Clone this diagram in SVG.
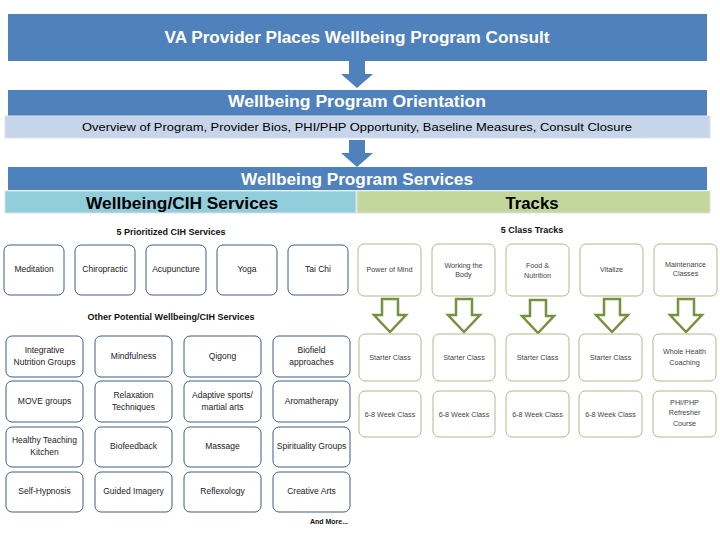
<svg xmlns="http://www.w3.org/2000/svg" width="720" height="540" viewBox="0 0 720 540">
<style>
text{font-family:"Liberation Sans",Arial,sans-serif}
.hdr{fill:#4F81BD}
.ttl{fill:#fff;font-size:16px;font-weight:bold;text-anchor:middle}
.sub{fill:#000;text-anchor:middle}
.cih rect{fill:#fff;stroke:#3F5F86;stroke-width:1}
.cih text{font-size:8.5px;fill:#222;text-anchor:middle}
.trk rect{fill:#fff;stroke:#B5B58C;stroke-width:1}
.trk text{font-size:7.2px;fill:#444;text-anchor:middle}
.lbl{font-size:9px;font-weight:bold;fill:#111;text-anchor:middle}
.garrow{fill:#fff;stroke:#76923C;stroke-width:2.5;stroke-linejoin:miter}
</style>

<g id="consult">
<rect class="hdr" x="8" y="14" width="699" height="47"/>
<text class="ttl" x="357" y="43" textLength="385" lengthAdjust="spacingAndGlyphs">VA Provider Places Wellbeing Program Consult</text>
</g>

<g id="orientation">
<rect class="hdr" x="8" y="90" width="699" height="26"/>
<text class="ttl" x="357" y="107" textLength="258" lengthAdjust="spacingAndGlyphs">Wellbeing Program Orientation</text>
<rect x="5" y="116" width="705" height="22" fill="#C6D5EA" stroke="#DCE4EE" stroke-width="1"/>
<text class="sub" x="357" y="131" font-size="11" textLength="550" lengthAdjust="spacingAndGlyphs">Overview of Program, Provider Bios, PHI/PHP Opportunity, Baseline Measures, Consult Closure</text>
</g>

<g id="services">
<rect class="hdr" x="8" y="167" width="699" height="23"/>
<text class="ttl" x="357" y="185" textLength="232" lengthAdjust="spacingAndGlyphs">Wellbeing Program Services</text>
<rect x="5" y="191" width="351" height="22" fill="#92CDDC" stroke="#D8E3EA" stroke-width="1"/>
<rect x="357" y="191" width="353" height="22" fill="#C3D69B" stroke="#D8E3EA" stroke-width="1"/>
<text class="sub" x="182" y="209" font-size="16" font-weight="bold" textLength="192" lengthAdjust="spacingAndGlyphs">Wellbeing/CIH Services</text>
<text class="sub" x="532" y="209" font-size="16" font-weight="bold" textLength="53" lengthAdjust="spacingAndGlyphs">Tracks</text>
</g>

<g id="connectors">
<polygon points="349,61 365,61 365,74 373,74 357,88 341,74 349,74" fill="#4F81BD"/>
<polygon points="349,140 365,140 365,153 373,153 357,167 341,153 349,153" fill="#4F81BD"/>
<g id="track-arrows">
<polygon class="garrow" points="382,299 398,299 398,315 406,315 390,332 374,315 382,315"/>
<polygon class="garrow" points="456,299 472,299 472,315 480,315 464,332 448,315 456,315"/>
<polygon class="garrow" points="530,300 546,300 546,316 554,316 538,333 522,316 530,316"/>
<polygon class="garrow" points="604,299 620,299 620,315 628,315 612,332 596,315 604,315"/>
<polygon class="garrow" points="678,299 694,299 694,315 702,315 686,332 670,315 678,315"/>
</g>
</g>

<g id="prioritized">
<text class="lbl" x="171" y="235">5 Prioritized CIH Services</text>
<g class="cih">
<g id="meditation"><rect x="4" y="245" width="60" height="50" rx="6"/><text x="34" y="272">Meditation</text></g>
<g id="chiropractic"><rect x="75" y="245" width="60" height="50" rx="6"/><text x="105" y="272">Chiropractic</text></g>
<g id="acupuncture"><rect x="146" y="245" width="60" height="50" rx="6"/><text x="176" y="272">Acupuncture</text></g>
<g id="yoga"><rect x="217" y="245" width="60" height="50" rx="6"/><text x="247" y="272">Yoga</text></g>
<g id="taichi"><rect x="288" y="245" width="60" height="50" rx="6"/><text x="318" y="272">Tai Chi</text></g>
</g>
</g>

<g id="other">
<text class="lbl" x="171" y="320" font-size="8.5">Other Potential Wellbeing/CIH Services</text>
<g class="cih">
<g id="integrative"><rect x="6" y="336" width="77" height="41" rx="6"/><text x="44.5" y="353">Integrative</text><text x="44.5" y="365">Nutrition Groups</text></g>
<g id="mindfulness"><rect x="95" y="336" width="77" height="41" rx="6"/><text x="133.5" y="359">Mindfulness</text></g>
<g id="qigong"><rect x="184" y="336" width="77" height="41" rx="6"/><text x="222.5" y="359">Qigong</text></g>
<g id="biofield"><rect x="273" y="336" width="77" height="41" rx="6"/><text x="311.5" y="353">Biofield</text><text x="311.5" y="365">approaches</text></g>

<g id="move"><rect x="6" y="381" width="77" height="41" rx="6"/><text x="44.5" y="404">MOVE groups</text></g>
<g id="relaxation"><rect x="95" y="381" width="77" height="41" rx="6"/><text x="133.5" y="398">Relaxation</text><text x="133.5" y="410">Techniques</text></g>
<g id="adaptive"><rect x="184" y="381" width="77" height="41" rx="6"/><text x="222.5" y="398">Adaptive sports/</text><text x="222.5" y="410">martial arts</text></g>
<g id="aromatherapy"><rect x="273" y="381" width="77" height="41" rx="6"/><text x="311.5" y="404">Aromatherapy</text></g>

<g id="kitchen"><rect x="6" y="427" width="77" height="40" rx="6"/><text x="44.5" y="443">Healthy Teaching</text><text x="44.5" y="455">Kitchen</text></g>
<g id="biofeedback"><rect x="95" y="427" width="77" height="40" rx="6"/><text x="133.5" y="449">Biofeedback</text></g>
<g id="massage"><rect x="184" y="427" width="77" height="40" rx="6"/><text x="222.5" y="449">Massage</text></g>
<g id="spirituality"><rect x="273" y="427" width="77" height="40" rx="6"/><text x="311.5" y="449">Spirituality Groups</text></g>

<g id="hypnosis"><rect x="6" y="472" width="77" height="40" rx="6"/><text x="44.5" y="494">Self-Hypnosis</text></g>
<g id="imagery"><rect x="95" y="472" width="77" height="40" rx="6"/><text x="133.5" y="494">Guided Imagery</text></g>
<g id="reflexology"><rect x="184" y="472" width="77" height="40" rx="6"/><text x="222.5" y="494">Reflexology</text></g>
<g id="creative"><rect x="273" y="472" width="77" height="40" rx="6"/><text x="311.5" y="494">Creative Arts</text></g>
</g>
<text x="329" y="524" font-size="7" font-weight="bold" fill="#111" text-anchor="middle">And More...</text>
</g>

<g id="tracks">
<text class="lbl" x="532" y="233">5 Class Tracks</text>
<g class="trk">
<g id="mind"><rect x="358" y="244" width="63" height="52" rx="6"/><text x="389.5" y="272">Power of Mind</text></g>
<g id="body"><rect x="432" y="244" width="63" height="52" rx="6"/><text x="463.5" y="268">Working the</text><text x="463.5" y="277">Body</text></g>
<g id="food"><rect x="506" y="244" width="63" height="52" rx="6"/><text x="537.5" y="268">Food &amp;</text><text x="537.5" y="278">Nutrition</text></g>
<g id="vitalize"><rect x="580" y="244" width="63" height="52" rx="6"/><text x="611.5" y="272">Vitalize</text></g>
<g id="maintenance"><rect x="654" y="244" width="63" height="52" rx="6"/><text x="685.5" y="267">Maintenance</text><text x="685.5" y="276">Classes</text></g>

<g id="starter1"><rect x="359" y="334" width="62" height="47" rx="6"/><text x="390" y="360">Starter Class</text></g>
<g id="starter2"><rect x="433" y="334" width="62" height="47" rx="6"/><text x="464" y="360">Starter Class</text></g>
<g id="starter3"><rect x="506" y="334" width="63" height="47" rx="6"/><text x="537.5" y="360">Starter Class</text></g>
<g id="starter4"><rect x="579" y="334" width="63" height="47" rx="6"/><text x="610.5" y="360">Starter Class</text></g>
<g id="coaching"><rect x="653" y="334" width="63" height="47" rx="6"/><text x="684.5" y="354">Whole Health</text><text x="684.5" y="365">Coaching</text></g>

<g id="week1"><rect x="359" y="391" width="62" height="46" rx="6"/><text x="390" y="417">6-8 Week Class</text></g>
<g id="week2"><rect x="433" y="391" width="62" height="46" rx="6"/><text x="464" y="417">6-8 Week Class</text></g>
<g id="week3"><rect x="506" y="391" width="63" height="46" rx="6"/><text x="537.5" y="417">6-8 Week Class</text></g>
<g id="week4"><rect x="579" y="391" width="63" height="46" rx="6"/><text x="610.5" y="417">6-8 Week Class</text></g>
<g id="refresher"><rect x="653" y="391" width="63" height="46" rx="6"/><text x="684.5" y="405">PHI/PHP</text><text x="684.5" y="415">Refresher</text><text x="684.5" y="426">Course</text></g>
</g>
</g>
</svg>
